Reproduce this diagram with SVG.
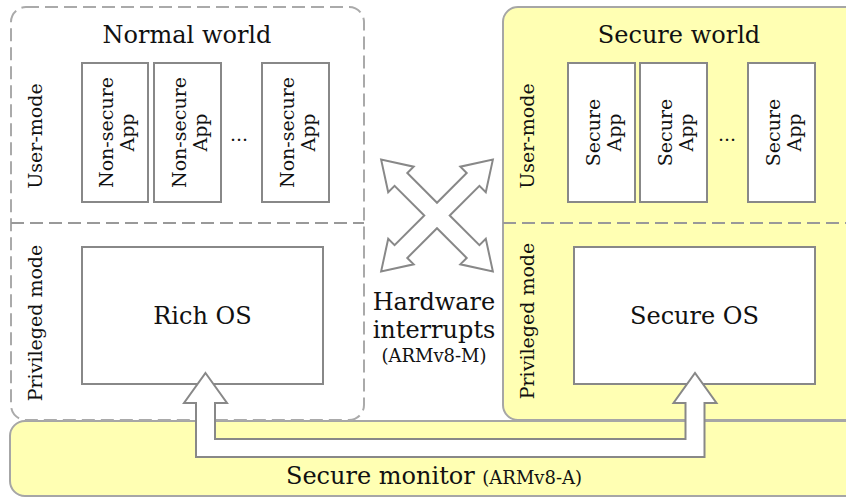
<svg xmlns="http://www.w3.org/2000/svg" width="846" height="497" viewBox="0 0 846 497">
  <style>
    text { font-family: "DejaVu Serif", "Liberation Serif", serif; fill: #111; }
    .title { font-size: 24px; text-anchor: middle; }
    .big { font-size: 24px; text-anchor: middle; }
    .mode { font-size: 19px; text-anchor: middle; }
    .app { font-size: 19px; text-anchor: middle; }
    .small { font-size: 18px; }
    .box { fill: #fff; stroke: #888; stroke-width: 2; }
    .world-n { fill: #fff; stroke: #aaa; stroke-width: 2; stroke-dasharray: 13 6; }
    .world-s { fill: #ffffb3; stroke: #a6a6a6; stroke-width: 2; }
    .sep { stroke: #999; stroke-width: 2; stroke-dasharray: 13 6; fill: none; }
    .hollow { fill: #fff; stroke: #888; stroke-width: 2; stroke-linejoin: miter; }
  </style>
  <rect width="846" height="497" fill="#fff"/>

  <!-- Secure monitor band -->
  <g id="secure-monitor">
    <rect x="10" y="421" width="850" height="75" rx="15" fill="#ffffb3" stroke="#a6a6a6" stroke-width="2"/>
    <text x="434" y="484" class="big">Secure monitor <tspan class="small">(ARMv8-A)</tspan></text>
  </g>

  <!-- Normal world -->
  <g id="normal-world">
    <rect x="11" y="7" width="353" height="413" rx="15" class="world-n"/>
    <line x1="11" y1="223" x2="364" y2="223" class="sep"/>
    <text x="187" y="43" class="title">Normal world</text>
    <text class="mode" transform="translate(42,136) rotate(-90)">User-mode</text>
    <text class="mode" transform="translate(42,323) rotate(-90)">Privileged mode</text>
  </g>

  <!-- Secure world -->
  <g id="secure-world">
    <rect x="503" y="7" width="360" height="413" rx="15" class="world-s"/>
    <line x1="503" y1="223" x2="846" y2="223" class="sep"/>
    <text x="679" y="43" class="title">Secure world</text>
    <text class="mode" transform="translate(534,136) rotate(-90)">User-mode</text>
    <text class="mode" transform="translate(534,321) rotate(-90)">Privileged mode</text>
  </g>

  <!-- Normal world applications -->
  <g id="ns-app-1">
    <rect x="82" y="63" width="66" height="139" class="box"/>
    <text class="app" transform="translate(115,132.5) rotate(-90)"><tspan x="0" y="-2">Non-secure</tspan><tspan x="0" y="19">App</tspan></text>
  </g>
  <g id="ns-app-2">
    <rect x="154" y="63" width="67" height="139" class="box"/>
    <text class="app" transform="translate(187.5,132.5) rotate(-90)"><tspan x="0" y="-2">Non-secure</tspan><tspan x="0" y="19">App</tspan></text>
  </g>
  <text x="239" y="141" class="app">...</text>
  <g id="ns-app-n">
    <rect x="262" y="63" width="67" height="139" class="box"/>
    <text class="app" transform="translate(295.5,132.5) rotate(-90)"><tspan x="0" y="-2">Non-secure</tspan><tspan x="0" y="19">App</tspan></text>
  </g>

  <!-- Secure world applications -->
  <g id="s-app-1">
    <rect x="568" y="63" width="67" height="139" class="box"/>
    <text class="app" transform="translate(601.5,132.5) rotate(-90)"><tspan x="0" y="-2">Secure</tspan><tspan x="0" y="19">App</tspan></text>
  </g>
  <g id="s-app-2">
    <rect x="640" y="63" width="67" height="139" class="box"/>
    <text class="app" transform="translate(673.5,132.5) rotate(-90)"><tspan x="0" y="-2">Secure</tspan><tspan x="0" y="19">App</tspan></text>
  </g>
  <text x="727" y="141" class="app">...</text>
  <g id="s-app-n">
    <rect x="748" y="63" width="67" height="139" class="box"/>
    <text class="app" transform="translate(781.5,132.5) rotate(-90)"><tspan x="0" y="-2">Secure</tspan><tspan x="0" y="19">App</tspan></text>
  </g>

  <!-- Operating systems -->
  <g id="rich-os">
    <rect x="82" y="247" width="241" height="137" class="box"/>
    <text x="202.5" y="324" class="big">Rich OS</text>
  </g>
  <g id="secure-os">
    <rect x="574" y="247" width="241" height="137" class="box"/>
    <text x="694.5" y="324" class="big">Secure OS</text>
  </g>

  <!-- Hardware interrupt label -->
  <g id="hw-interrupts">
    <text x="434" y="310" class="big">Hardware</text>
    <text x="434" y="338" class="big">interrupts</text>
    <text x="434" y="362" class="big small">(ARMv8-M)</text>
  </g>

  <!-- Connectors -->
  <g id="connectors">
    <!-- four-way hollow arrow between the worlds -->
    <polygon class="hollow" transform="translate(437,215.5) rotate(45)"
      points="9,-9 51,-9 51,-18 79,0 51,18 51,9 9,9 9,51 18,51 0,79 -18,51 -9,51 -9,9 -51,9 -51,18 -79,0 -51,-18 -51,-9 -9,-9 -9,-51 -18,-51 0,-79 18,-51 9,-51"/>
    <!-- monitor call path from Rich OS to Secure OS -->
    <polygon class="hollow"
      points="205.5,373 227,403 215,403 215,439 685.5,439 685.5,403 673.5,403 695,373 716.5,403 704.5,403 704.5,457 196,457 196,403 184,403"/>
  </g>
</svg>
